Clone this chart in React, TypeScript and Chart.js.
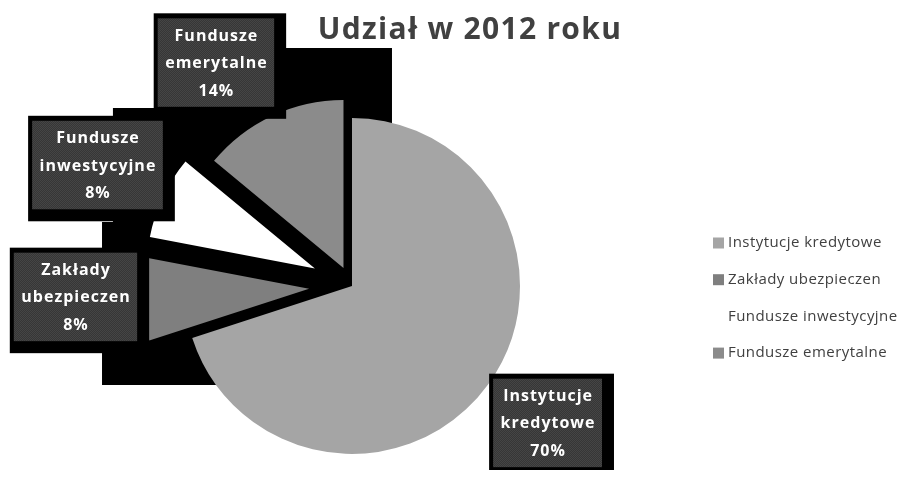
import React, { useEffect, useRef } from "react";
import { Chart, registerables } from "chart.js";

Chart.register(...registerables);

// ---- data ----
const TITLE = "Udział w 2012 roku";
const categories = [
  "Instytucje kredytowe",
  "Zakłady ubezpieczen",
  "Fundusze inwestycyjne",
  "Fundusze emerytalne",
];
const labelLines = [
  ["Instytucje", "kredytowe"],
  ["Zakłady", "ubezpieczen"],
  ["Fundusze", "inwestycyjne"],
  ["Fundusze", "emerytalne"],
];
const shares = [70, 8, 8, 14];

// ---- style ----
const sliceColors = ["#a5a5a5", "#7f7f7f", "#ffffff", "#8b8b8b"];
// explosion distance (px) of each slice along its mid-angle
const sliceExplode = [0, 43, 41, 20];
// label box centres, in units of the pie radius from the pie centre
const labelAnchors = [
  [1.164, 0.815],
  [-1.646, 0.065],
  [-1.515, -0.72],
  [-0.81, -1.33],
];
// dark backdrop behind the small slices, in units of the radius
const backdrop = [
  [-1.423, -1.06],
  [-0.429, -1.06],
  [-0.429, -1.417],
  [0.238, -1.417],
  [0.238, 0.589],
  [-1.488, 0.589],
  [-1.488, -0.381],
  [-1.423, -0.381],
];

let texture: CanvasPattern | null = null;
function getTexture(ctx: CanvasRenderingContext2D) {
  if (texture) return texture;
  const c = document.createElement("canvas");
  c.width = 2;
  c.height = 2;
  const g = c.getContext("2d")!;
  g.fillStyle = "#363636";
  g.fillRect(0, 0, 2, 2);
  g.fillStyle = "#454545";
  g.fillRect(0, 0, 1, 1);
  g.fillRect(1, 1, 1, 1);
  texture = ctx.createPattern(c, "repeat");
  return texture;
}

const decor = {
  id: "decor",
  beforeDatasetsDraw(chart: any) {
    const arc = chart.getDatasetMeta(0).data[0] as any;
    const cx = arc.x,
      cy = arc.y,
      r = arc.outerRadius;
    const ctx: CanvasRenderingContext2D = chart.ctx;
    ctx.save();
    ctx.fillStyle = "#000";
    ctx.beginPath();
    backdrop.forEach(([a, b], i) => {
      if (i === 0) ctx.moveTo(cx + a * r, cy + b * r);
      else ctx.lineTo(cx + a * r, cy + b * r);
    });
    ctx.closePath();
    ctx.fill();
    ctx.restore();
  },
  beforeDatasetDraw(chart: any, args: any) {
    // draw the library's arc elements, each translated along its mid-angle
    const meta = chart.getDatasetMeta(args.index);
    const ctx: CanvasRenderingContext2D = chart.ctx;
    meta.data.forEach((el: any, i: number) => {
      const mid = (el.startAngle + el.endAngle) / 2;
      const d = sliceExplode[i] || 0;
      ctx.save();
      ctx.translate(Math.cos(mid) * d, Math.sin(mid) * d);
      el.draw(ctx, chart.chartArea);
      ctx.restore();
    });
    return false;
  },
  afterDatasetsDraw(chart: any) {
    const meta = chart.getDatasetMeta(0);
    const arc = meta.data[0] as any;
    const cx = arc.x,
      cy = arc.y,
      r = arc.outerRadius;
    const ctx: CanvasRenderingContext2D = chart.ctx;
    const total = shares.reduce((a, b) => a + b, 0);

    // data labels
    ctx.save();
    ctx.font = "bold 16px 'Open Sans'";
    (ctx as any).letterSpacing = "1px";
    const lineH = 27.5;
    categories.forEach((_, i) => {
      const lines = [...labelLines[i], Math.round((shares[i] / total) * 100) + "%"];
      const w = Math.max(...lines.map((l) => ctx.measureText(l).width)) + 14;
      const h = lineH * 3 + 6;
      const bx = cx + labelAnchors[i][0] * r - w / 2;
      const by = cy + labelAnchors[i][1] * r - h / 2;
      ctx.fillStyle = "#000";
      ctx.fillRect(bx - 4, by - 5, w + 16, h + 17);
      ctx.fillStyle = getTexture(ctx) || "#3b3b3b";
      ctx.fillRect(bx, by, w, h);
      ctx.fillStyle = "#ffffff";
      ctx.textAlign = "center";
      ctx.textBaseline = "middle";
      lines.forEach((l, k) => {
        ctx.fillText(l, bx + w / 2 + 0.5, by + 3 + lineH * (k + 0.5) + 1);
      });
    });
    ctx.restore();

    // legend
    ctx.save();
    ctx.font = "15px 'Open Sans'";
    (ctx as any).letterSpacing = "0.45px";
    ctx.textAlign = "left";
    ctx.textBaseline = "middle";
    const lx = 705;
    categories.forEach((c, i) => {
      const ly = 235 + i * 36.7;
      ctx.fillStyle = sliceColors[i];
      ctx.fillRect(lx, ly - 5.5, 11, 11);
      ctx.fillStyle = "#404040";
      ctx.fillText(c, lx + 15, ly);
    });
    ctx.restore();

    // title
    ctx.save();
    ctx.font = "bold 30px 'Open Sans'";
    (ctx as any).letterSpacing = "1.3px";
    ctx.fillStyle = "#404040";
    ctx.textAlign = "center";
    ctx.textBaseline = "alphabetic";
    ctx.fillText(TITLE, 462, 31);
    ctx.restore();
  },
};

export default function App() {
  const ref = useRef<HTMLCanvasElement | null>(null);
  useEffect(() => {
    if (!ref.current) return;
    const chart = new Chart(ref.current, {
      type: "pie",
      data: {
        labels: categories,
        datasets: [
          {
            data: shares,
            backgroundColor: sliceColors,
            borderWidth: 0,
          },
        ],
      },
      options: {
        animation: false,
        responsive: false,
        radius: 168,
        layout: { padding: { left: 0, right: 213, top: 94, bottom: 0 } },
        plugins: {
          legend: { display: false },
          title: { display: false },
          tooltip: { enabled: false },
        },
      } as any,
      plugins: [decor],
    });
    return () => chart.destroy();
  }, []);
  return (
    <div style={{ width: 901, height: 462 }}>
      <canvas ref={ref} width={901} height={462} style={{ display: "block", width: 901, height: 462 }} />
    </div>
  );
}
